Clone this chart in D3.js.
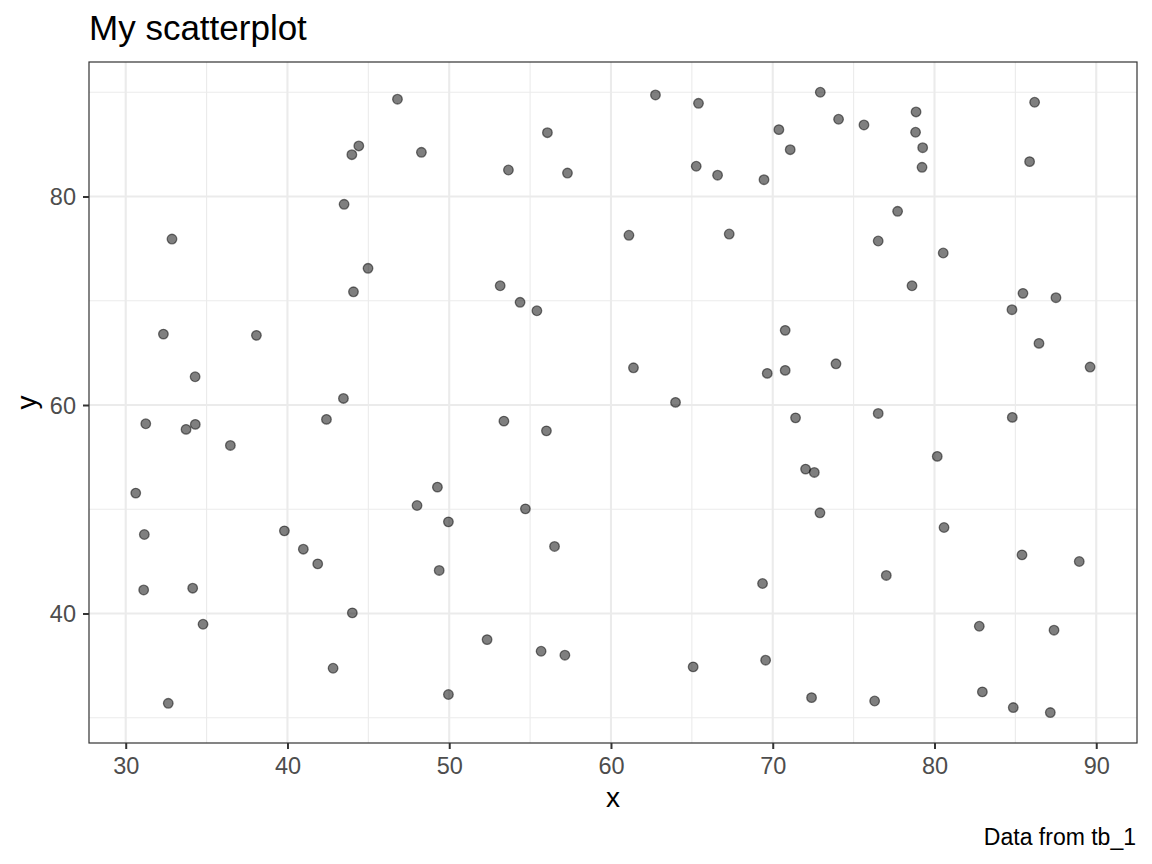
<!DOCTYPE html>
<html>
<head>
<meta charset="utf-8">
<script src="https://cdn.jsdelivr.net/npm/d3@7"></script>
<style>
  html, body { margin: 0; padding: 0; background: #ffffff; }
  svg { display: block; }
  text { font-family: "Liberation Sans", Arial, Helvetica, sans-serif; }
</style>
</head>
<body>
<svg id="chart" width="1152" height="864"></svg>
<script>
// ---- data ----
const xValues = [
  46.80, 44.41, 43.98, 48.28, 43.50, 32.86, 44.98, 44.08, 32.33, 38.08, 34.29, 43.46,
  62.75, 65.41, 56.07, 70.38, 71.08, 53.66, 57.31, 65.27, 66.59, 69.46, 61.11, 67.31,
  53.15, 54.38, 55.42, 70.77, 61.39, 69.66, 70.77, 63.99,
  72.94, 74.07, 75.64, 78.86, 78.83, 79.27, 79.23, 86.19, 85.88, 77.72, 76.52, 80.54,
  78.61, 85.47, 87.51, 84.79, 86.46, 73.91, 89.62,
  31.24, 33.73, 34.30, 36.47, 42.41, 30.62, 31.15, 31.11, 34.14, 34.78, 32.63, 39.81,
  40.98, 41.87, 44.01, 42.82, 49.27, 48.01, 49.95, 49.38, 49.95,
  53.38, 56.01, 71.41, 54.71, 56.51, 69.37, 52.34, 55.68, 57.15, 65.08, 69.56,
  76.52, 84.81, 80.17, 72.03, 72.57, 72.92, 80.59, 85.41, 88.95, 77.02, 82.77, 87.39,
  72.40, 76.30, 82.96, 84.87, 87.16
];
const yValues = [
  89.33, 84.85, 84.01, 84.24, 79.25, 75.92, 73.11, 70.86, 66.80, 66.68, 62.71, 60.63,
  89.74, 88.94, 86.12, 86.41, 84.49, 82.54, 82.25, 82.90, 82.04, 81.61, 76.28, 76.40,
  71.44, 69.85, 69.04, 67.16, 63.57, 63.03, 63.32, 60.25,
  90.00, 87.41, 86.86, 88.11, 86.16, 84.68, 82.80, 89.04, 83.34, 78.58, 75.73, 74.58,
  71.44, 70.71, 70.29, 69.14, 65.91, 63.95, 63.64,
  58.20, 57.66, 58.14, 56.12, 58.62, 51.55, 47.58, 42.26, 42.43, 38.97, 31.39, 47.93,
  46.17, 44.76, 40.06, 34.75, 52.12, 50.36, 48.79, 44.13, 32.23,
  58.45, 57.52, 58.77, 50.04, 46.43, 42.88, 37.50, 36.38, 36.00, 34.88, 35.52,
  59.19, 58.81, 55.07, 53.85, 53.53, 49.66, 48.25, 45.62, 44.99, 43.65, 38.78, 38.40,
  31.93, 31.61, 32.48, 30.98, 30.50
];
const xLimits = [27.73, 92.52];
const yLimits = [27.58, 92.90];
const xMajorTicks = [30, 40, 50, 60, 70, 80, 90];
const xMinorTicks = [35, 45, 55, 65, 75, 85];
const yMajorTicks = [40, 60, 80];
const yMinorTicks = [30, 50, 70, 90];
const titleText = "My scatterplot";
const xTitle = "x";
const yTitle = "y";
const captionText = "Data from tb_1";

const points = xValues.map((x, i) => ({ x: x, y: yValues[i] }));

// ---- layout ----
const W = 1152, H = 864;
const panel = { left: 89, top: 62, right: 1137, bottom: 743 };

const svg = d3.select("#chart");

const x = d3.scaleLinear().domain(xLimits).range([panel.left, panel.right]);
const y = d3.scaleLinear().domain(yLimits).range([panel.bottom, panel.top]);

// panel background
svg.append("rect")
  .attr("x", panel.left).attr("y", panel.top)
  .attr("width", panel.right - panel.left).attr("height", panel.bottom - panel.top)
  .attr("fill", "#ffffff");

const grid = svg.append("g");
// minor grid
grid.selectAll("line.xmin").data(xMinorTicks).enter().append("line")
  .attr("x1", d => x(d)).attr("x2", d => x(d))
  .attr("y1", panel.top).attr("y2", panel.bottom)
  .attr("stroke", "#ebebeb").attr("stroke-width", 1.1);
grid.selectAll("line.ymin").data(yMinorTicks).enter().append("line")
  .attr("y1", d => y(d)).attr("y2", d => y(d))
  .attr("x1", panel.left).attr("x2", panel.right)
  .attr("stroke", "#ebebeb").attr("stroke-width", 1.1);
// major grid
grid.selectAll("line.xmaj").data(xMajorTicks).enter().append("line")
  .attr("x1", d => x(d)).attr("x2", d => x(d))
  .attr("y1", panel.top).attr("y2", panel.bottom)
  .attr("stroke", "#ebebeb").attr("stroke-width", 2.1);
grid.selectAll("line.ymaj").data(yMajorTicks).enter().append("line")
  .attr("y1", d => y(d)).attr("y2", d => y(d))
  .attr("x1", panel.left).attr("x2", panel.right)
  .attr("stroke", "#ebebeb").attr("stroke-width", 2.1);

// points
svg.append("g").selectAll("circle").data(points).enter().append("circle")
  .attr("cx", d => x(d.x)).attr("cy", d => y(d.y))
  .attr("r", 4.8)
  .attr("fill", "#000000").attr("fill-opacity", 0.5)
  .attr("stroke", "#000000").attr("stroke-opacity", 0.5)
  .attr("stroke-width", 1.3);

// panel border
svg.append("rect")
  .attr("x", panel.left).attr("y", panel.top)
  .attr("width", panel.right - panel.left).attr("height", panel.bottom - panel.top)
  .attr("fill", "none").attr("stroke", "#333333").attr("stroke-width", 1.2);

// axes
const xAxis = d3.axisBottom(x).tickValues(xMajorTicks).tickSize(6).tickPadding(8).tickFormat(d3.format("d"));
const yAxis = d3.axisLeft(y).tickValues(yMajorTicks).tickSize(6).tickPadding(7).tickFormat(d3.format("d"));

const gx = svg.append("g").attr("transform", `translate(0,${panel.bottom})`).call(xAxis);
const gy = svg.append("g").attr("transform", `translate(${panel.left},0)`).call(yAxis);

[gx, gy].forEach(g => {
  g.select(".domain").remove();
  g.selectAll(".tick line").attr("stroke", "#333333").attr("stroke-width", 2);
  g.selectAll(".tick text")
    .attr("fill", "#4d4d4d")
    .style("font-size", "23.5px")
    .style("font-family", "'Liberation Sans', Arial, Helvetica, sans-serif");
});
gx.selectAll(".tick text").attr("dy", "0.72em");
gy.selectAll(".tick text").attr("dy", "0.35em");

// title
svg.append("text")
  .attr("x", panel.left).attr("y", 40)
  .attr("fill", "#000000")
  .style("font-size", "35px")
  .text(titleText);

// x axis title
svg.append("text")
  .attr("x", (panel.left + panel.right) / 2).attr("y", 807)
  .attr("text-anchor", "middle")
  .attr("fill", "#000000")
  .style("font-size", "28px")
  .text(xTitle);

// y axis title
svg.append("text")
  .attr("transform", `translate(36,${(panel.top + panel.bottom) / 2}) rotate(-90)`)
  .attr("text-anchor", "middle")
  .attr("fill", "#000000")
  .style("font-size", "28px")
  .text(yTitle);

// caption
svg.append("text")
  .attr("x", panel.right - 1).attr("y", 845)
  .attr("text-anchor", "end")
  .attr("fill", "#000000")
  .style("font-size", "23px")
  .text(captionText);
</script>
</body>
</html>
